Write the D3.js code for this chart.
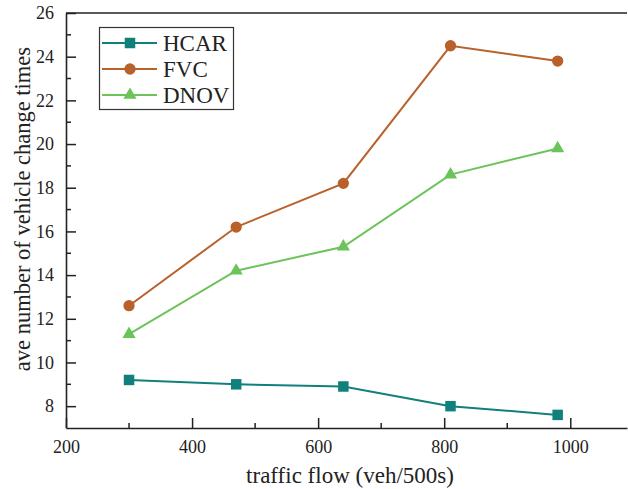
<!DOCTYPE html>
<html><head><meta charset="utf-8">
<script src="https://cdn.jsdelivr.net/npm/d3@7"></script>
<style>body{margin:0;background:#fff}svg{display:block}text{font-family:"Liberation Serif","Times New Roman",serif;fill:#222}</style>
</head><body>
<svg id="c" width="628" height="489"></svg>
<script>
const xValues = [300, 470, 640, 810, 980];
const hcar = [9.2, 9.0, 8.9, 8.0, 7.6];
const fvc = [12.6, 16.2, 18.2, 24.5, 23.8];
const dnov = [11.3, 14.2, 15.3, 18.6, 19.8];
const seriesNames = ["HCAR", "FVC", "DNOV"];
const xTicks = [200, 400, 600, 800, 1000];
const yTicks = [8, 10, 12, 14, 16, 18, 20, 22, 24, 26];

const colors = ["#11807c", "#b9612a", "#6cc35a"];
const shapes = [d3.symbolSquare, d3.symbolCircle, d3.symbolTriangle];
const sizes = [110, 100, 75];
const seriesData = [hcar, fvc, dnov];

const svg = d3.select("#c");
const L = 66, R = 627, T = 13, B = 428;
const x = d3.scaleLinear().domain([200, 1090]).range([L, R]);
const y = d3.scaleLinear().domain([7, 26]).range([B, T]);

const axisColor = "#222";
const xMinor = d3.range(300, 1090, 200);
const yMinor = d3.range(9, 26, 2);

const gx = svg.append("g").attr("transform", `translate(0,${B})`)
  .call(d3.axisBottom(x).tickValues(xTicks).tickSizeInner(-10).tickSizeOuter(0).tickPadding(12).tickFormat(d3.format("d")));
gx.selectAll(".tick text").style("font-size", "18px");
gx.selectAll("line").attr("stroke", axisColor).attr("stroke-width", 1.5);
gx.select(".domain").attr("stroke", axisColor).attr("stroke-width", 1.6);
gx.selectAll(".minor").data(xMinor).enter().append("line")
  .attr("x1", d => x(d)).attr("x2", d => x(d)).attr("y1", 0).attr("y2", -5)
  .attr("stroke", axisColor).attr("stroke-width", 1.5);

const gy = svg.append("g").attr("transform", `translate(${L},0)`)
  .call(d3.axisLeft(y).tickValues(yTicks).tickSizeInner(-10).tickSizeOuter(0).tickPadding(12).tickFormat(d3.format("d")));
gy.selectAll(".tick text").style("font-size", "18px");
gy.selectAll("line").attr("stroke", axisColor).attr("stroke-width", 1.5);
gy.select(".domain").attr("stroke", axisColor).attr("stroke-width", 1.6);
gy.selectAll(".minor").data(yMinor).enter().append("line")
  .attr("y1", d => y(d)).attr("y2", d => y(d)).attr("x1", 0).attr("x2", 5)
  .attr("stroke", axisColor).attr("stroke-width", 1.5);

svg.append("line").attr("x1", L).attr("x2", R).attr("y1", T).attr("y2", T)
  .attr("stroke", axisColor).attr("stroke-width", 1.6);

const line = d3.line().x((d, i) => x(xValues[i])).y(d => y(d));
seriesData.forEach((vals, s) => {
  svg.append("path").datum(vals).attr("d", line).attr("fill", "none")
    .attr("stroke", colors[s]).attr("stroke-width", 2);
  svg.selectAll(null).data(vals).enter().append("path")
    .attr("d", d3.symbol().type(shapes[s]).size(sizes[s]))
    .attr("transform", (d, i) => `translate(${x(xValues[i])},${y(d)})`)
    .attr("fill", colors[s]);
});

const lg = svg.append("g");
lg.append("rect").attr("x", 99.5).attr("y", 27.5).attr("width", 134).attr("height", 82)
  .attr("fill", "#fff").attr("stroke", "#333").attr("stroke-width", 1.2);
const rowY = [43, 69, 95];
seriesNames.forEach((n, s) => {
  lg.append("line").attr("x1", 102).attr("x2", 157).attr("y1", rowY[s]).attr("y2", rowY[s])
    .attr("stroke", colors[s]).attr("stroke-width", 2);
  lg.append("path").attr("d", d3.symbol().type(shapes[s]).size(sizes[s]))
    .attr("transform", `translate(130,${rowY[s]})`).attr("fill", colors[s]);
  lg.append("text").attr("x", 163).attr("y", rowY[s]).attr("dy", "0.35em")
    .style("font-size", "23px").text(n);
});

svg.append("text").attr("x", 350).attr("y", 483).attr("text-anchor", "middle")
  .style("font-size", "23px").text("traffic flow (veh/500s)");
svg.append("text").attr("transform", `translate(30,209) rotate(-90)`)
  .attr("text-anchor", "middle").style("font-size", "22.5px").text("ave number of vehicle change times");
</script>
</body></html>
